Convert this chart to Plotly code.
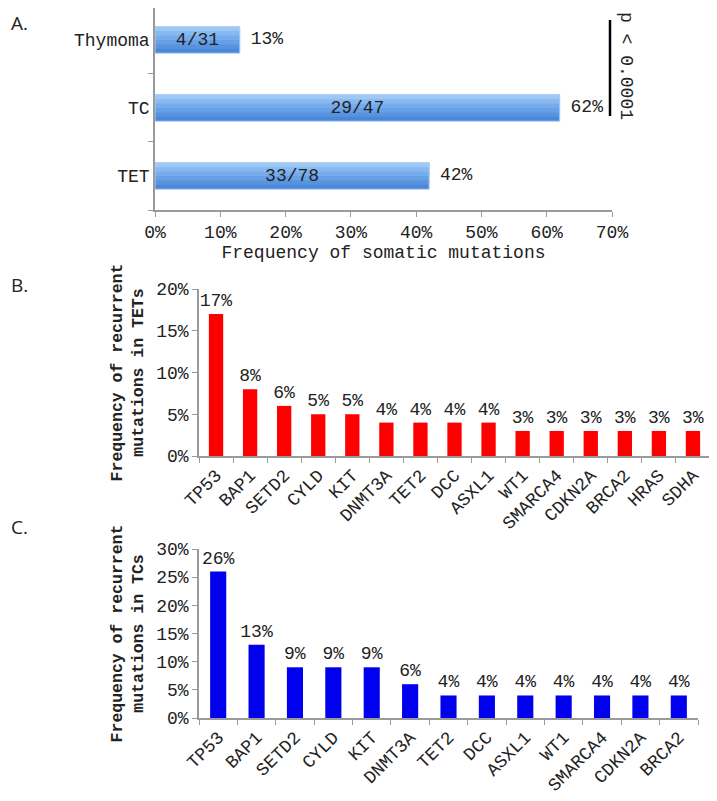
import plotly.graph_objects as go

# Panel A data
a_groups = ["TET", "TC", "Thymoma"]
a_freq = [42, 62, 13]
a_counts = ["33/78", "29/47", "4/31"]
a_pct_labels = ["42%", "62%", "13%"]
a_ticks = [0, 10, 20, 30, 40, 50, 60, 70]

# Panel B data (TETs)
b_genes = ["TP53", "BAP1", "SETD2", "CYLD", "KIT", "DNMT3A", "TET2", "DCC",
           "ASXL1", "WT1", "SMARCA4", "CDKN2A", "BRCA2", "HRAS", "SDHA"]
b_freq = [17, 8, 6, 5, 5, 4, 4, 4, 4, 3, 3, 3, 3, 3, 3]
b_ticks = [0, 5, 10, 15, 20]

# Panel C data (TCs)
c_genes = ["TP53", "BAP1", "SETD2", "CYLD", "KIT", "DNMT3A", "TET2", "DCC",
           "ASXL1", "WT1", "SMARCA4", "CDKN2A", "BRCA2"]
c_freq = [26, 13, 9, 9, 9, 6, 4, 4, 4, 4, 4, 4, 4]
c_ticks = [0, 5, 10, 15, 20, 25, 30]

MONO = "Courier New, Liberation Mono, monospace"
AXC = "#9a9a9a"
TXT = "#222222"
# the page body adds an 8px offset; figure is sized so reference pixels map directly
OFF = 8
W, H = 717 - OFF, 801 - OFF
FS = 18


def px(x):
    return min(1.0, max(0.0, (x - OFF) / W))


def py(y):
    return min(1.0, max(0.0, 1 - (y - OFF) / H))


fig = go.Figure()

# Panel A: gradient-looking bars built from overlapping bands (darker bottom -> light top)
BAR_W = 0.39
band_colors = ["#4a87d9", "#5893df", "#66a0e5", "#76acec", "#89b9f1", "#9fc7f5"]
nb = len(band_colors)
for i, col in enumerate(band_colors):
    fig.add_trace(go.Bar(
        x=a_freq, y=a_groups, orientation="h", width=BAR_W - i * BAR_W / nb,
        offset=-BAR_W / 2 + i * BAR_W / nb,
        marker=dict(color=col, line=dict(width=0)),
        xaxis="x", yaxis="y", showlegend=False, hoverinfo="skip"))
fig.add_trace(go.Bar(
    x=a_freq, y=a_groups, orientation="h", width=BAR_W, offset=-BAR_W / 2,
    marker=dict(color="rgba(0,0,0,0)", line=dict(color="#b5d3f7", width=1)),
    text=a_counts, textposition="inside", insidetextanchor="middle",
    textfont=dict(family=MONO, size=FS, color=TXT), constraintext="none",
    xaxis="x", yaxis="y", showlegend=False, hoverinfo="skip"))
fig.add_trace(go.Scatter(
    x=a_freq, y=a_groups, mode="text", text=["\u00a0" + t for t in a_pct_labels],
    textposition="middle right",
    textfont=dict(family=MONO, size=FS, color=TXT),
    xaxis="x", yaxis="y", showlegend=False, cliponaxis=False, hoverinfo="skip"))

# Panel B
fig.add_trace(go.Bar(
    x=b_genes, y=b_freq, marker=dict(color="#ff0000", line=dict(width=0)),
    text=[f"{v}%" for v in b_freq], textposition="outside", constraintext="none",
    textfont=dict(family=MONO, size=FS, color=TXT), cliponaxis=False,
    xaxis="x2", yaxis="y2", showlegend=False, hoverinfo="skip"))

# Panel C
fig.add_trace(go.Bar(
    x=c_genes, y=c_freq, marker=dict(color="#0000ee", line=dict(width=0)),
    text=[f"{v}%" for v in c_freq], textposition="outside", constraintext="none",
    textfont=dict(family=MONO, size=FS, color=TXT), cliponaxis=False,
    xaxis="x3", yaxis="y3", showlegend=False, hoverinfo="skip"))

axis_common = dict(showline=True, linecolor=AXC, linewidth=1.5, ticks="outside",
                   ticklen=5, tickcolor=AXC, showgrid=False, zeroline=False,
                   automargin=False,
                   tickfont=dict(family=MONO, size=FS, color=TXT))


def pct(vals):
    return [f"{v}%" for v in vals]


fig.update_layout(
    width=W, height=H, margin=dict(l=0, r=0, t=0, b=0, autoexpand=False),
    paper_bgcolor="white", plot_bgcolor="white", bargap=0.58, barmode="overlay",
    xaxis=dict(domain=[px(155), px(612)], anchor="y", range=[0, 70],
               tickvals=a_ticks, ticktext=pct(a_ticks),
               title=dict(text="Frequency of somatic mutations", standoff=2,
                          font=dict(family=MONO, size=FS, color=TXT)),
               **axis_common),
    yaxis=dict(domain=[py(210), py(8)], anchor="x", range=[-0.5, 2.47],
               categoryorder="array", categoryarray=a_groups,
               tickson="boundaries", **axis_common),
    xaxis2=dict(domain=[px(199), px(710)], anchor="y2", tickangle=-45,
                tickson="boundaries", **axis_common),
    yaxis2=dict(domain=[py(456), py(289)], anchor="x2", range=[0, 20],
                tickvals=b_ticks, ticktext=pct(b_ticks),
                title=dict(text="<b>Frequency of recurrent<br>mutations in TETs</b>",
                           standoff=8, font=dict(family=MONO, size=16.5, color=TXT)),
                **axis_common),
    xaxis3=dict(domain=[px(199), px(698)], anchor="y3", tickangle=-45,
                tickson="boundaries", **axis_common),
    yaxis3=dict(domain=[py(718), py(549)], anchor="x3", range=[0, 30],
                tickvals=c_ticks, ticktext=pct(c_ticks),
                title=dict(text="<b>Frequency of recurrent<br>mutations in TCs</b>",
                           standoff=8, font=dict(family=MONO, size=16.5, color=TXT)),
                **axis_common),
)

panel_font = dict(family="Open Sans", size=19, color=TXT)
for lab, ypx in [("A.", 23), ("B.", 285), ("C.", 527)]:
    fig.add_annotation(text=lab, x=px(9), y=py(ypx), xref="paper", yref="paper",
                       xanchor="left", yanchor="middle", showarrow=False, font=panel_font)

# significance bar
fig.add_shape(type="line", xref="paper", yref="paper",
              x0=px(610), x1=px(610), y0=py(20), y1=py(116),
              line=dict(color="black", width=2.5))
fig.add_annotation(text="p < 0.0001", x=px(626), y=py(66), xref="paper", yref="paper",
                   xanchor="center", yanchor="middle",
                   textangle=90, showarrow=False,
                   font=dict(family=MONO, size=FS, color=TXT))

fig.write_html("out.html")
